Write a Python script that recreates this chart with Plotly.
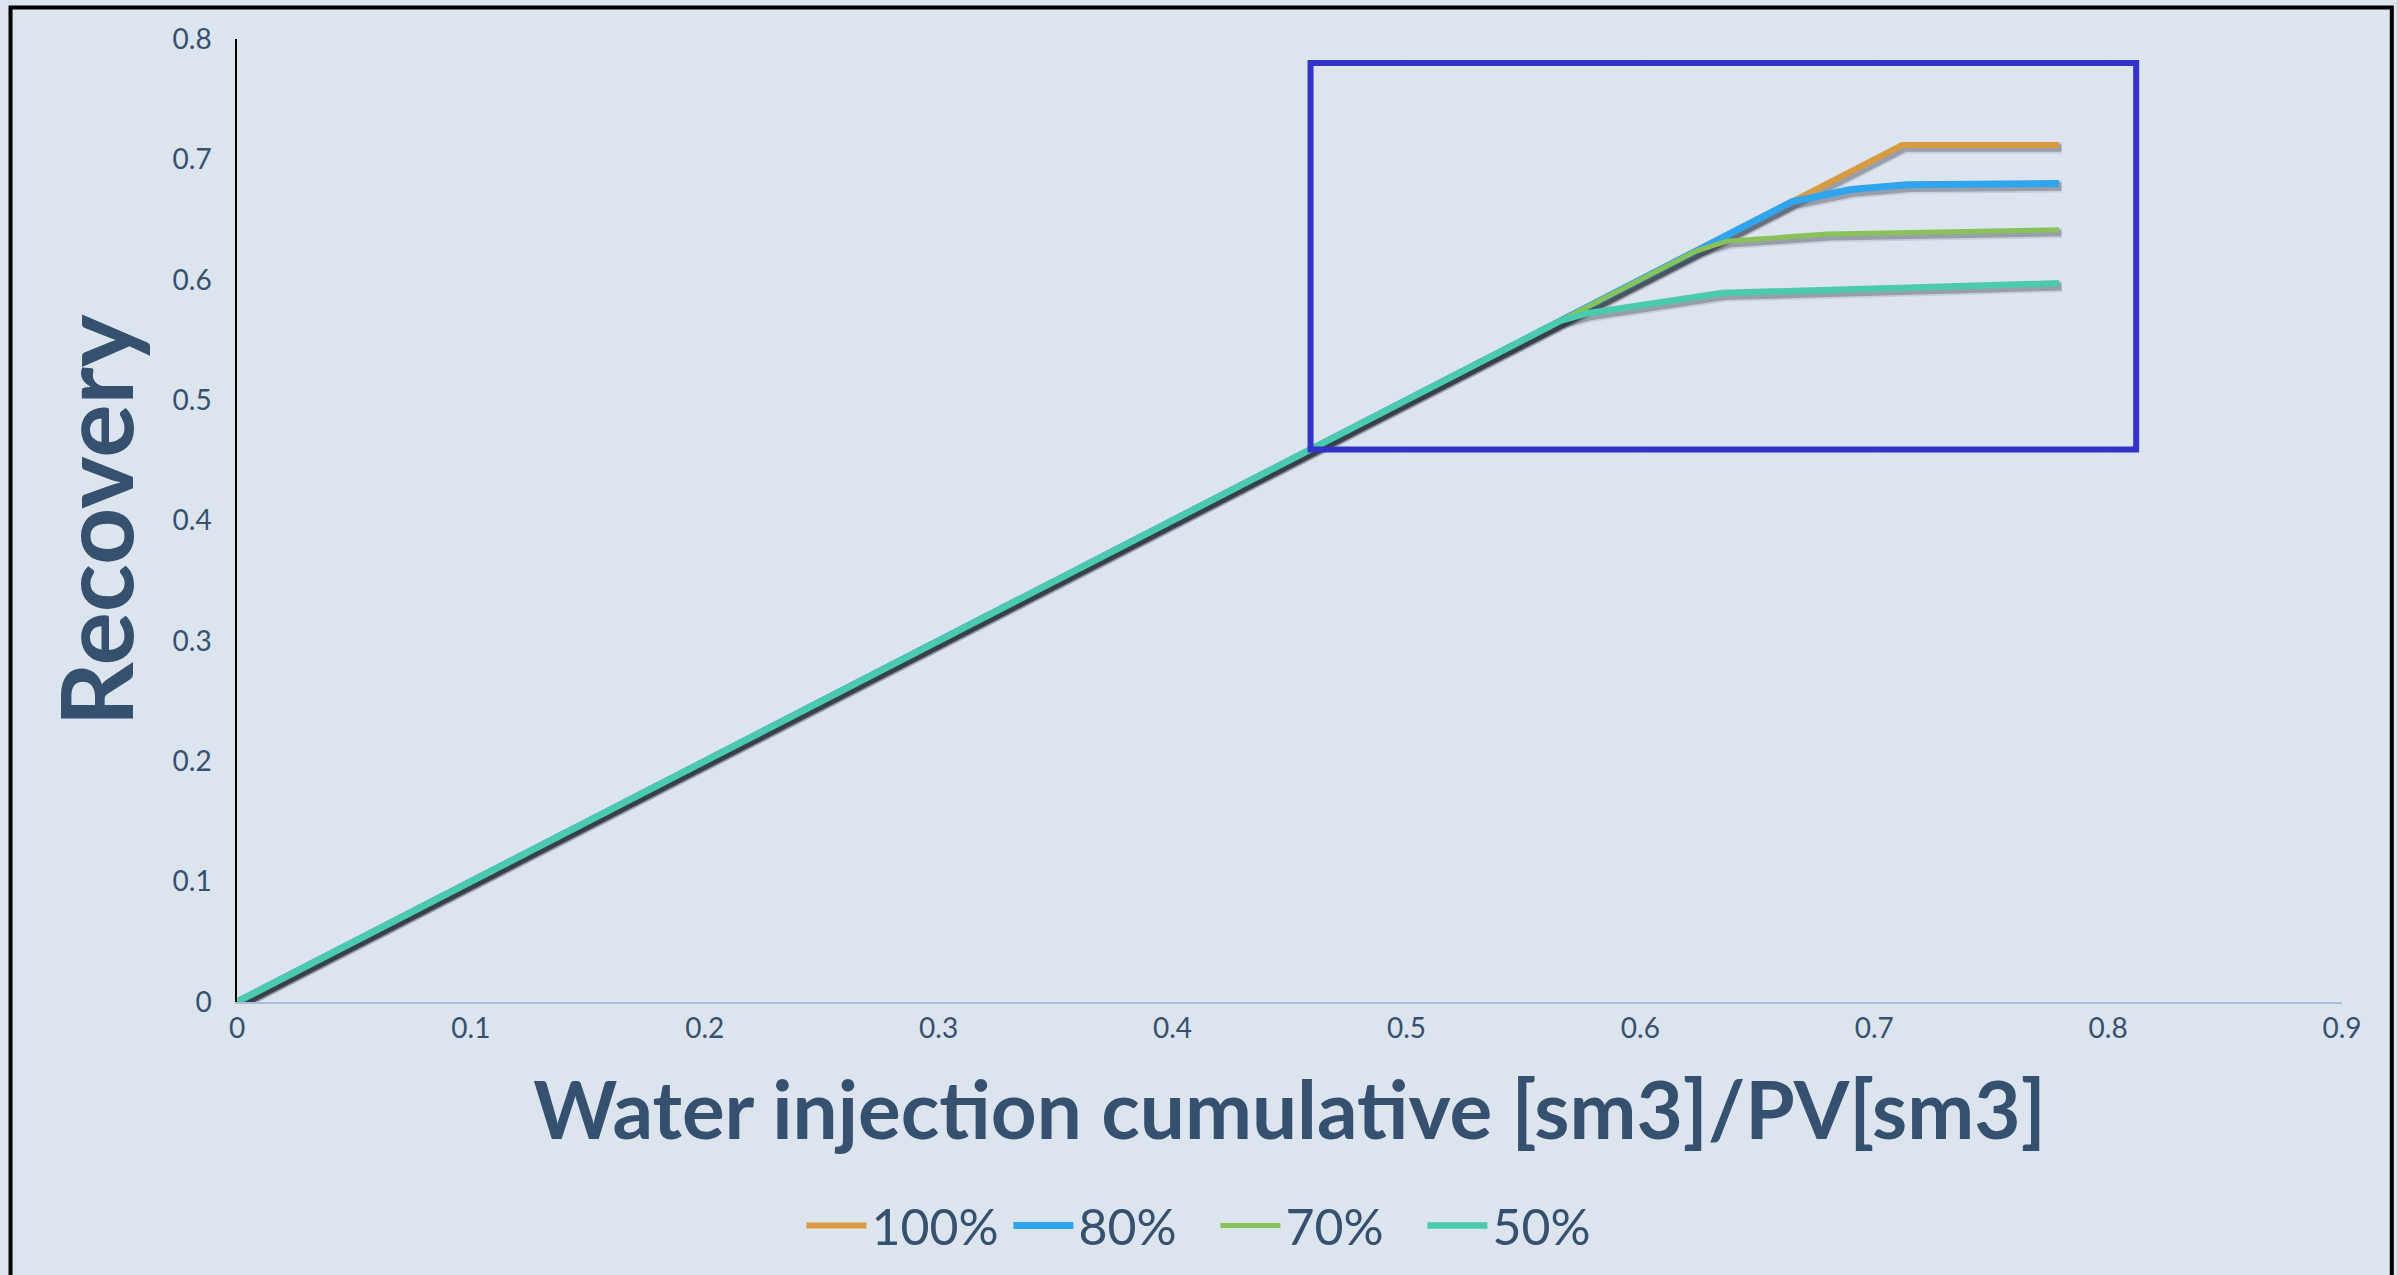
import plotly.graph_objects as go

# Recovery factor vs. cumulative water injection (pore volumes injected)
series_names = ["100%", "80%", "70%", "50%"]
x_100 = [0.0, 0.712, 0.779]
y_100 = [0.0, 0.712, 0.712]
x_80 = [0.0, 0.665, 0.690, 0.714, 0.779]
y_80 = [0.0, 0.665, 0.675, 0.679, 0.680]
x_70 = [0.0, 0.624, 0.637, 0.680, 0.779]
y_70 = [0.0, 0.624, 0.632, 0.638, 0.6415]
x_50 = [0.0, 0.566, 0.577, 0.635, 0.779]
y_50 = [0.0, 0.566, 0.572, 0.589, 0.597]

x_ticks = [0, 0.1, 0.2, 0.3, 0.4, 0.5, 0.6, 0.7, 0.8, 0.9]
y_ticks = [0, 0.1, 0.2, 0.3, 0.4, 0.5, 0.6, 0.7, 0.8]

# highlighted plateau region (data units)
zoom_box = dict(x0=0.459, y0=0.459, x1=0.812, y1=0.780)

colors = ["#DA9B40", "#31A4EE", "#8AC25A", "#4CCAAE"]
widths = [6, 7, 5, 6.5]
xs = [x_100, x_80, x_70, x_50]
ys = [y_100, y_80, y_70, y_50]

BG = "#DCE4EE"
TXT = "#36506F"
W, H = 2397, 1275
L, R, T, B = 236.5, 55.3, 38.5, 272.7

fig = go.Figure()

# soft drop shadow offset slightly down/right, then the line itself
sdx, sdy = 0.0011, -0.0026
for name, x, y, c, w in zip(series_names, xs, ys, colors, widths):
    for extra, alpha in [(5, 0.10), (1.5, 0.26)]:
        fig.add_trace(go.Scatter(
            x=[v + sdx for v in x], y=[v + sdy for v in y], mode="lines",
            line=dict(color=f"rgba(20,25,35,{alpha})", width=w + extra),
            showlegend=False, hoverinfo="skip"))
    fig.add_trace(go.Scatter(
        x=x, y=y, mode="lines", name=name,
        line=dict(color=c, width=w)))

pw = W - L - R
ph = H - T - B

def px_x(p):
    return (p - L) / pw

def px_y(p):
    return (H - B - p) / ph

fig.add_shape(type="rect", xref="x", yref="y", **zoom_box,
              line=dict(color="#3333CC", width=6), layer="above")

# outer frame
fig.add_shape(type="rect", xref="paper", yref="paper",
              x0=px_x(10), x1=px_x(2391.5), y0=px_y(1300), y1=px_y(7),
              line=dict(color="black", width=4), layer="above")

fig.update_layout(
    width=W, height=H,
    margin=dict(l=L, r=R, t=T, b=B, autoexpand=False),
    paper_bgcolor=BG, plot_bgcolor=BG,
    font=dict(family="Lato", color=TXT),
    showlegend=True,
    legend=dict(orientation="h", x=px_x(1215), y=px_y(1226),
                xanchor="center", yanchor="middle",
                font=dict(size=50, color=TXT), itemwidth=60,
                entrywidth=132,
                bgcolor="rgba(0,0,0,0)", tracegroupgap=0),
    xaxis=dict(range=[0, 0.9], tickvals=x_ticks,
               ticktext=[f"{v:g}" for v in x_ticks],
               showgrid=True, gridcolor="#E0E7F0", gridwidth=1,
               zeroline=False, showline=True, linecolor="#A9BED8",
               linewidth=2, ticks="", tickfont=dict(size=28, color=TXT),
               title=dict(text="Water injection cumulative [sm3]/PV[sm3]",
                          font=dict(size=80, color=TXT, family="Lato",
                                    weight="bold"),
                          standoff=40),
               automargin=False, fixedrange=True),
    yaxis=dict(range=[0, 0.8], tickvals=y_ticks,
               ticktext=[f"{v:g}" for v in y_ticks],
               showgrid=True, gridcolor="#E0E7F0", gridwidth=1,
               zeroline=False, showline=True, linecolor="black",
               linewidth=1.5, ticks="", tickfont=dict(size=28, color=TXT),
               ticklabelstandoff=18,
               title=dict(text="Recovery",
                          font=dict(size=100, color=TXT, family="Lato",
                                    weight="bold"),
                          standoff=6),
               automargin=False, fixedrange=True),
)

fig.write_html("out.html")
